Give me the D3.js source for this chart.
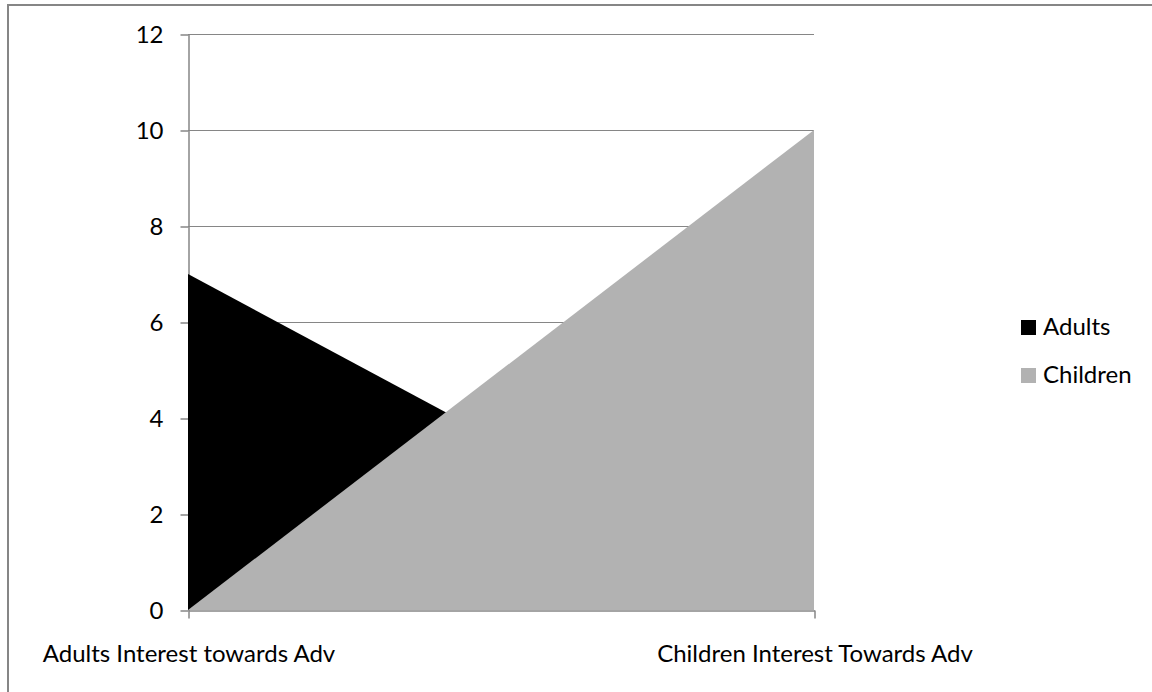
<!DOCTYPE html>
<html>
<head>
<meta charset="utf-8">
<script src="https://cdn.jsdelivr.net/npm/d3@7"></script>
<style>
  html, body { margin: 0; padding: 0; background: #fff; }
  svg { display: block; }
  text { font-family: Lato, "Open Sans", sans-serif; fill: #000; }
</style>
</head>
<body>
<svg id="chart" width="1152" height="692"></svg>
<script>
// Categories along the x axis
const categories = ["Adults Interest towards Adv", "Children Interest Towards Adv"];
// Series values, one per category
const adults = [7, 0];
const children = [0, 10];
const seriesNames = ["Adults", "Children"];
const seriesColors = ["#000000", "#b2b2b2"];
// Value axis ticks
const yTicks = [0, 2, 4, 6, 8, 10, 12];

const svg = d3.select("#chart");
const W = 1152, H = 692;
const fontSize = 24;
const fontFamily = "Lato, 'Open Sans', sans-serif";
const lineColor = "#868686";

// Outer chart border (right and bottom edges run past the frame)
svg.append("rect")
  .attr("x", 8).attr("y", 5)
  .attr("width", W + 20).attr("height", H + 20)
  .attr("fill", "none")
  .attr("stroke", lineColor)
  .attr("stroke-width", 2);

const plot = { left: 188, right: 814, top: 34, bottom: 610 };

const x = d3.scalePoint().domain(categories).range([plot.left, plot.right]);
const y = d3.scaleLinear().domain([0, 12]).range([plot.bottom, plot.top]);

// Horizontal gridlines, behind the areas
svg.append("g")
  .selectAll("line")
  .data(yTicks.filter(t => t > 0))
  .join("line")
  .attr("x1", plot.left).attr("x2", plot.right)
  .attr("y1", d => y(d) + 0.5).attr("y2", d => y(d) + 0.5)
  .attr("stroke", lineColor).attr("stroke-width", 1);

// Value axis
const yAxis = svg.append("g")
  .attr("transform", `translate(${plot.left + 0.5},0.5)`)
  .call(d3.axisLeft(y).tickValues(yTicks).tickSize(8).tickPadding(17).tickSizeOuter(0));
yAxis.select(".domain").attr("stroke", lineColor).attr("stroke-width", 1.5);
yAxis.selectAll(".tick line").attr("stroke", lineColor).attr("stroke-width", 1.5);
yAxis.selectAll("text").style("font-size", fontSize + "px").attr("fill", "#000")
  .style("font-family", fontFamily);

// Overlapping areas: adults behind, children in front
const series = [adults, children];
const area = d3.area()
  .x((d, i) => x(categories[i]))
  .y0(y(0))
  .y1(d => y(d));

svg.append("g")
  .selectAll("path")
  .data(series)
  .join("path")
  .attr("d", d => area(d))
  .attr("fill", (d, i) => seriesColors[i]);

// Category axis
const xAxis = svg.append("g")
  .attr("transform", `translate(0.5,${plot.bottom + 0.5})`)
  .call(d3.axisBottom(x).tickSize(8).tickPadding(26).tickSizeOuter(0));
xAxis.select(".domain").attr("stroke", lineColor).attr("stroke-width", 1.5);
xAxis.selectAll(".tick line").attr("stroke", lineColor).attr("stroke-width", 1.5);
xAxis.selectAll("text").style("font-size", fontSize + "px").attr("fill", "#000")
  .style("font-family", fontFamily);

// Legend
const legend = svg.append("g").attr("transform", "translate(1021,320)");
const items = legend.selectAll("g")
  .data(seriesNames)
  .join("g")
  .attr("transform", (d, i) => `translate(0,${i * 48})`);
items.append("rect")
  .attr("width", 15).attr("height", 15)
  .attr("fill", (d, i) => seriesColors[i]);
items.append("text")
  .attr("x", 22).attr("y", 15)
  .style("font-size", fontSize + "px")
  .text(d => d);
</script>
</body>
</html>
